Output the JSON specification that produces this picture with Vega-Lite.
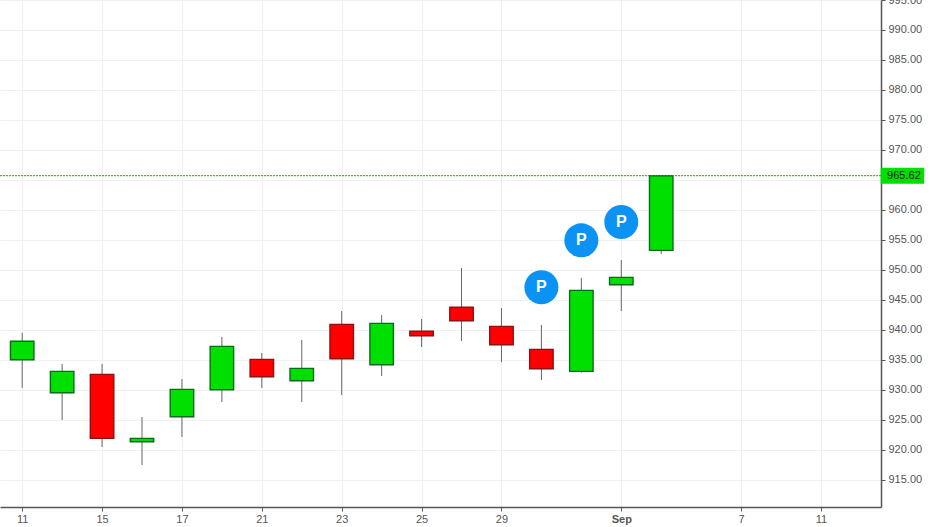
{
  "$schema": "https://vega.github.io/schema/vega-lite/v6.json",
  "width": 881,
  "height": 507,
  "autosize": "none",
  "padding": {"left": 0, "top": 0, "right": 52, "bottom": 20},
  "background": "white",
  "datasets": {
    "candles": [
      {"day": "2017-08-11", "open": 935.0, "high": 939.5, "low": 930.3, "close": 938.08, "dir": "up"},
      {"day": "2017-08-14", "open": 929.5, "high": 934.3, "low": 924.95, "close": 933.07, "dir": "up"},
      {"day": "2017-08-15", "open": 932.57, "high": 934.3, "low": 920.45, "close": 921.9, "dir": "down"},
      {"day": "2017-08-16", "open": 921.33, "high": 925.45, "low": 917.45, "close": 921.9, "dir": "up"},
      {"day": "2017-08-17", "open": 925.5, "high": 931.8, "low": 922.12, "close": 930.07, "dir": "up"},
      {"day": "2017-08-18", "open": 930.0, "high": 938.8, "low": 927.95, "close": 937.24, "dir": "up"},
      {"day": "2017-08-21", "open": 935.07, "high": 936.13, "low": 930.3, "close": 932.18, "dir": "down"},
      {"day": "2017-08-22", "open": 931.5, "high": 938.3, "low": 927.95, "close": 933.57, "dir": "up"},
      {"day": "2017-08-23", "open": 940.91, "high": 943.13, "low": 929.12, "close": 935.18, "dir": "down"},
      {"day": "2017-08-24", "open": 934.18, "high": 942.46, "low": 932.29, "close": 941.08, "dir": "up"},
      {"day": "2017-08-25", "open": 939.75, "high": 941.8, "low": 937.13, "close": 939.0, "dir": "down"},
      {"day": "2017-08-28", "open": 943.75, "high": 950.3, "low": 938.13, "close": 941.5, "dir": "down"},
      {"day": "2017-08-29", "open": 940.58, "high": 943.63, "low": 934.63, "close": 937.51, "dir": "down"},
      {"day": "2017-08-30", "open": 936.74, "high": 940.8, "low": 931.62, "close": 933.51, "dir": "down"},
      {"day": "2017-08-31", "open": 933.07, "high": 948.64, "low": 932.85, "close": 946.58, "dir": "up"},
      {"day": "2017-09-01", "open": 947.52, "high": 951.64, "low": 943.13, "close": 948.75, "dir": "up"},
      {"day": "2017-09-05", "open": 953.25, "high": 965.7, "low": 952.64, "close": 965.7, "dir": "up"}
    ],
    "pivots": [
      {"day": "2017-08-30", "price": 947.1, "label": "P"},
      {"day": "2017-08-31", "price": 954.92, "label": "P"},
      {"day": "2017-09-01", "price": 957.98, "label": "P"}
    ]
  },
  "encoding": {
    "x": {
      "field": "day",
      "type": "ordinal",
      "title": null,
      "scale": {
        "type": "point",
        "domain": ["2017-08-11", "2017-08-14", "2017-08-15", "2017-08-16", "2017-08-17", "2017-08-18", "2017-08-21", "2017-08-22", "2017-08-23", "2017-08-24", "2017-08-25", "2017-08-28", "2017-08-29", "2017-08-30", "2017-08-31", "2017-09-01", "2017-09-05", "2017-09-06", "2017-09-07", "2017-09-08", "2017-09-11", "2017-09-12"],
        "padding": 0.529,
        "align": 0.525
      },
      "axis": {
        "values": ["2017-08-11", "2017-08-15", "2017-08-17", "2017-08-21", "2017-08-23", "2017-08-25", "2017-08-29", "2017-09-01", "2017-09-07", "2017-09-11"],
        "labelExpr": "datum.value === '2017-09-01' ? 'Sep' : '' + parseInt(substring(datum.value, 8, 10))",
        "labelFontWeight": {"condition": {"test": "datum.value === '2017-09-01'", "value": "bold"}, "value": "normal"},
        "labelAngle": 0,
        "labelFont": "Liberation Sans",
        "labelFontSize": 11,
        "labelColor": "#555555",
        "labelPadding": 2,
        "tickSize": 4,
        "tickColor": "#555555",
        "domainColor": "#555555",
        "domainWidth": 1.5,
        "grid": true,
        "gridColor": "#f0f0f0"
      }
    }
  },
  "layer": [
    {
      "data": {"name": "candles"},
      "mark": {"type": "rule", "color": "#666666", "strokeWidth": 1},
      "encoding": {
        "y": {
          "field": "low",
          "type": "quantitative",
          "title": null,
          "scale": {"domain": [910.45, 995], "nice": false, "zero": false},
          "axis": {
            "orient": "right",
            "values": [915, 920, 925, 930, 935, 940, 945, 950, 955, 960, 965, 970, 975, 980, 985, 990, 995],
            "tickCount": 17,
            "format": ".2f",
            "labelFont": "Liberation Sans",
            "labelFontSize": 11,
            "labelColor": "#555555",
            "labelPadding": 3,
            "labelOverlap": false,
            "labelBound": false,
            "tickSize": 4,
            "tickColor": "#555555",
            "domainColor": "#555555",
            "domainWidth": 1.5,
            "grid": true,
            "gridColor": "#f0f0f0"
          }
        },
        "y2": {"field": "high"}
      }
    },
    {
      "data": {"name": "candles"},
      "mark": {"type": "bar", "width": 23.5, "strokeWidth": 1.4},
      "encoding": {
        "y": {"field": "open", "type": "quantitative"},
        "y2": {"field": "close"},
        "fill": {
          "field": "dir",
          "type": "nominal",
          "legend": null,
          "scale": {"domain": ["up", "down"], "range": ["#00e000", "#ff0000"]}
        },
        "stroke": {
          "field": "dir",
          "type": "nominal",
          "legend": null,
          "scale": {"domain": ["up", "down"], "range": ["#0b6b1d", "#8c1212"]}
        }
      }
    },
    {
      "data": {"values": [{"last": 965.7}]},
      "mark": {"type": "rule", "color": "#00b020", "strokeWidth": 1, "strokeDash": [2, 1]},
      "encoding": {
        "x": {"value": 0},
        "x2": {"value": 881},
        "y": {"field": "last", "type": "quantitative"}
      }
    },
    {
      "data": {"values": [{"day": "2017-09-12", "last": 965.7}]},
      "mark": {"type": "tick", "orient": "horizontal", "size": 43.5, "thickness": 16, "color": "#00e000", "opacity": 1, "xOffset": 41.5},
      "encoding": {
        "y": {"field": "last", "type": "quantitative"}
      }
    },
    {
      "data": {"values": [{"day": "2017-09-12", "last": 965.7, "label": "965.62"}]},
      "mark": {"type": "text", "font": "Liberation Sans", "fontSize": 11, "color": "#222222", "dx": 43, "baseline": "middle"},
      "encoding": {
        "y": {"field": "last", "type": "quantitative"},
        "text": {"field": "label"}
      }
    },
    {
      "data": {"name": "pivots"},
      "mark": {"type": "point", "shape": "circle", "filled": true, "size": 1156, "color": "#0a93f5", "opacity": 1},
      "encoding": {
        "y": {"field": "price", "type": "quantitative"}
      }
    },
    {
      "data": {"name": "pivots"},
      "mark": {"type": "text", "font": "Liberation Sans", "fontSize": 16, "fontWeight": "bold", "color": "white", "baseline": "middle"},
      "encoding": {
        "y": {"field": "price", "type": "quantitative"},
        "text": {"field": "label"}
      }
    }
  ],
  "config": {
    "view": {"stroke": null}
  }
}
